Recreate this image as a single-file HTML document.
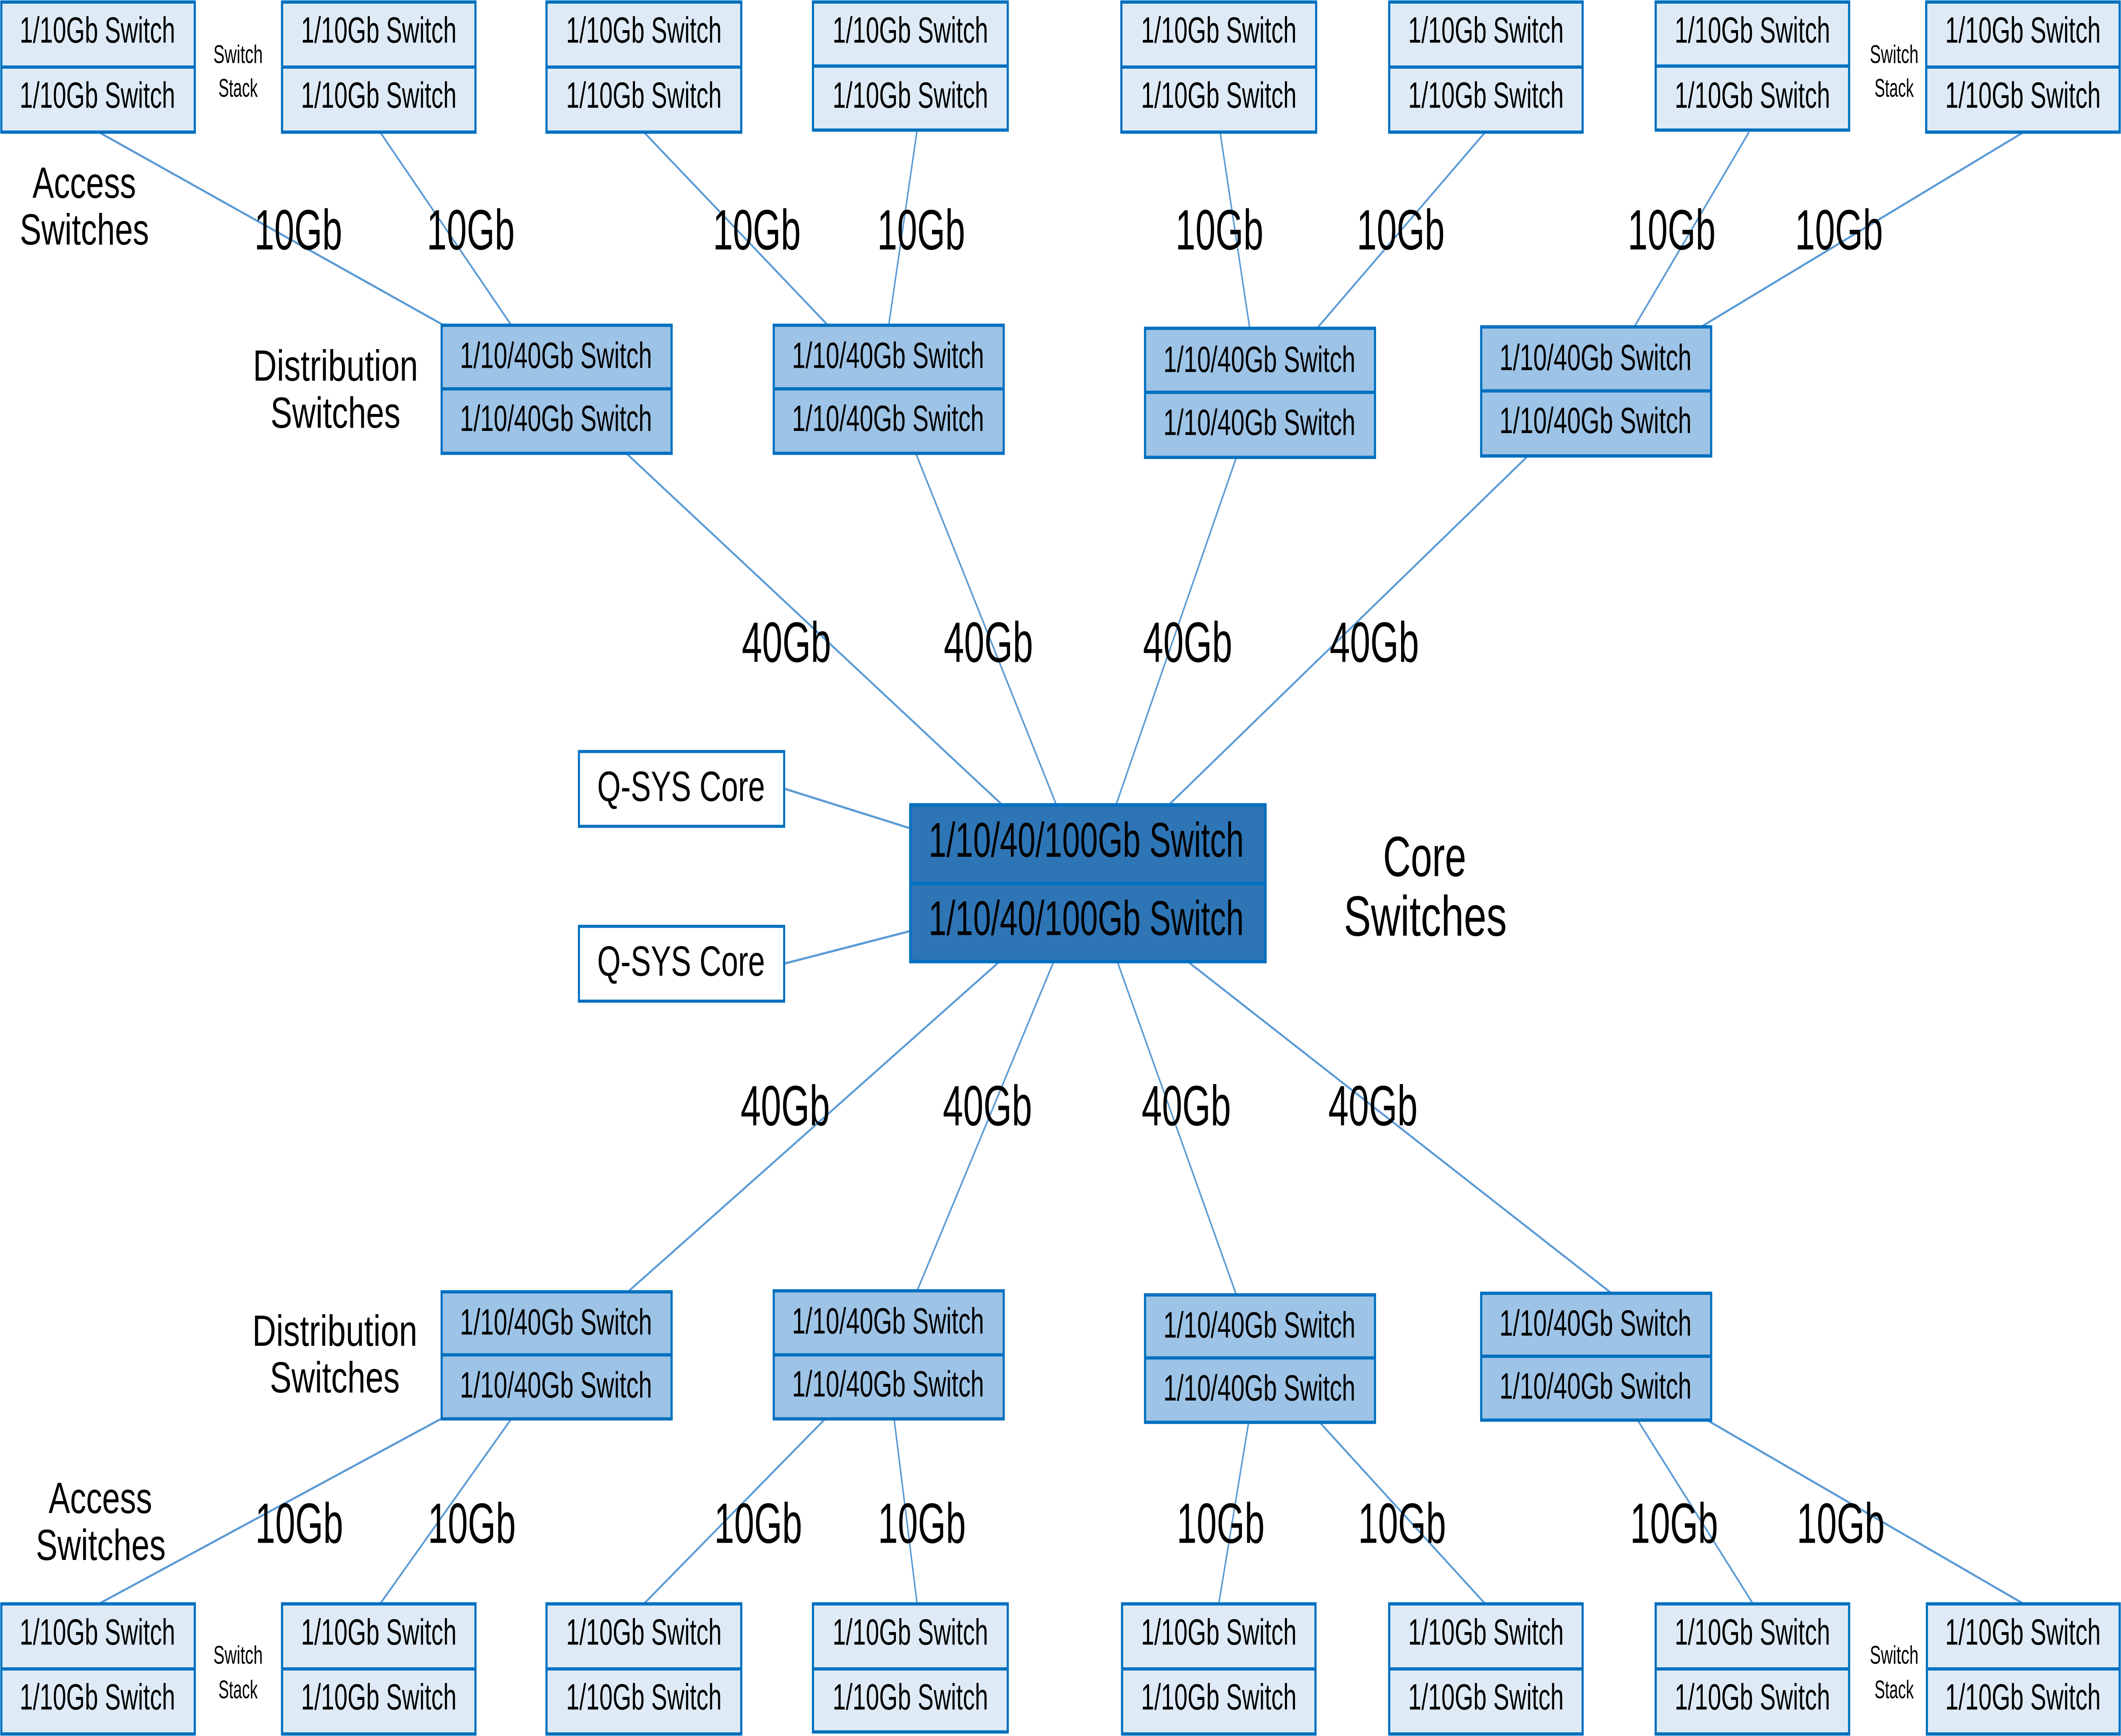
<!DOCTYPE html>
<html>
<head>
<meta charset="utf-8">
<style>
html,body{margin:0;padding:0;background:#fff;width:100%;height:100%;overflow:hidden;}
svg{display:block;width:100vw;height:100vh;}
text{font-family:"Liberation Sans",sans-serif;fill:#000;}
</style>
</head>
<body>
<svg xmlns="http://www.w3.org/2000/svg" viewBox="0 0 1568 854" preserveAspectRatio="none">
<rect x="0" y="0" width="1568" height="854" fill="#fff"/>

<!-- connector lines -->
<g stroke="#5B9BD5" stroke-width="1.1" fill="none">
  <line x1="73" y1="65" x2="328" y2="160"/>
  <line x1="281" y1="65" x2="378" y2="160"/>
  <line x1="476" y1="65" x2="612" y2="160"/>
  <line x1="678" y1="64" x2="657" y2="160"/>
  <line x1="902" y1="65" x2="924" y2="162"/>
  <line x1="1098" y1="65" x2="973" y2="162"/>
  <line x1="1293" y1="65" x2="1208" y2="161"/>
  <line x1="1496" y1="65" x2="1257" y2="161"/>
  <line x1="463" y1="223" x2="741" y2="396"/>
  <line x1="677" y1="223" x2="781" y2="396"/>
  <line x1="914" y1="225" x2="825" y2="396"/>
  <line x1="1130" y1="224" x2="864" y2="396"/>
  <line x1="739" y1="473" x2="465" y2="635"/>
  <line x1="779" y1="473" x2="678" y2="635"/>
  <line x1="826" y1="473" x2="914" y2="637"/>
  <line x1="878" y1="473" x2="1191" y2="636"/>
  <line x1="326" y1="698" x2="73" y2="789"/>
  <line x1="378" y1="698" x2="281" y2="789"/>
  <line x1="610" y1="698" x2="476" y2="789"/>
  <line x1="661" y1="698" x2="678" y2="789"/>
  <line x1="923" y1="700" x2="901" y2="789"/>
  <line x1="976" y1="700" x2="1098" y2="789"/>
  <line x1="1211" y1="699" x2="1296" y2="789"/>
  <line x1="1263" y1="699" x2="1496" y2="789"/>
  <line x1="580" y1="388" x2="673" y2="407.5"/>
  <line x1="580" y1="474" x2="673" y2="458"/>
</g>

<!-- access boxes top -->
<g stroke="#0070C0" stroke-width="1.6" fill="#DEEBF7">
  <rect x="1" y="1" width="143" height="64"/><line x1="1" y1="33" x2="144" y2="33"/>
  <rect x="208.5" y="1" width="143" height="64"/><line x1="208.5" y1="33" x2="351.5" y2="33"/>
  <rect x="404" y="1" width="144" height="64"/><line x1="404" y1="33" x2="548" y2="33"/>
  <rect x="601" y="1" width="144" height="63"/><line x1="601" y1="32.5" x2="745" y2="32.5"/>
  <rect x="829" y="1" width="144" height="64"/><line x1="829" y1="33" x2="973" y2="33"/>
  <rect x="1027" y="1" width="143" height="64"/><line x1="1027" y1="33" x2="1170" y2="33"/>
  <rect x="1224" y="1" width="143" height="63"/><line x1="1224" y1="32.5" x2="1367" y2="32.5"/>
  <rect x="1424" y="1" width="143" height="64"/><line x1="1424" y1="33" x2="1567" y2="33"/>
</g>
<!-- access boxes bottom -->
<g stroke="#0070C0" stroke-width="1.6" fill="#DEEBF7">
  <rect x="1" y="789" width="143" height="64"/><line x1="1" y1="821" x2="144" y2="821"/>
  <rect x="208.5" y="789" width="143" height="64"/><line x1="208.5" y1="821" x2="351.5" y2="821"/>
  <rect x="404" y="789" width="144" height="64"/><line x1="404" y1="821" x2="548" y2="821"/>
  <rect x="601" y="789" width="144" height="63"/><line x1="601" y1="821" x2="745" y2="821"/>
  <rect x="829.5" y="789" width="143" height="64"/><line x1="829.5" y1="821" x2="972.5" y2="821"/>
  <rect x="1027" y="789" width="143" height="64"/><line x1="1027" y1="821" x2="1170" y2="821"/>
  <rect x="1224" y="789" width="143" height="64"/><line x1="1224" y1="821" x2="1367" y2="821"/>
  <rect x="1424.5" y="789" width="142.5" height="64"/><line x1="1424.5" y1="821" x2="1567" y2="821"/>
</g>

<!-- distribution boxes -->
<g stroke="#0070C0" stroke-width="1.6" fill="#9DC3E6">
  <rect x="326.5" y="160" width="170" height="63"/><line x1="326.5" y1="191.3" x2="496.5" y2="191.3"/>
  <rect x="572" y="160" width="170" height="63"/><line x1="572" y1="191.3" x2="742" y2="191.3"/>
  <rect x="846.5" y="161.5" width="170" height="63.5"/><line x1="846.5" y1="193" x2="1016.5" y2="193"/>
  <rect x="1095" y="160.8" width="170" height="63.5"/><line x1="1095" y1="192.3" x2="1265" y2="192.3"/>
  <rect x="326.5" y="635.5" width="170" height="62.5"/><line x1="326.5" y1="666.5" x2="496.5" y2="666.5"/>
  <rect x="572" y="635" width="170" height="63"/><line x1="572" y1="666.5" x2="742" y2="666.5"/>
  <rect x="846.5" y="637" width="170" height="62.7"/><line x1="846.5" y1="668" x2="1016.5" y2="668"/>
  <rect x="1095" y="636.2" width="170" height="62.4"/><line x1="1095" y1="667.2" x2="1265" y2="667.2"/>
</g>

<!-- core -->
<g stroke="#0070C0" stroke-width="1.8" fill="#2E75B6">
  <rect x="673" y="396" width="262.5" height="77"/>
  <line x1="673" y1="434.6" x2="935.5" y2="434.6"/>
</g>

<!-- Q-SYS boxes -->
<g stroke="#0070C0" stroke-width="1.5" fill="#fff">
  <rect x="428" y="369.7" width="151.7" height="36.8"/>
  <rect x="428" y="455.7" width="151.7" height="36.8"/>
</g>

<!-- access box text -->
<g font-size="18" text-anchor="middle">
  <text x="72" y="21" textLength="115" lengthAdjust="spacingAndGlyphs">1/10Gb Switch</text>
  <text x="72" y="53" textLength="115" lengthAdjust="spacingAndGlyphs">1/10Gb Switch</text>
  <text x="280" y="21" textLength="115" lengthAdjust="spacingAndGlyphs">1/10Gb Switch</text>
  <text x="280" y="53" textLength="115" lengthAdjust="spacingAndGlyphs">1/10Gb Switch</text>
  <text x="476" y="21" textLength="115" lengthAdjust="spacingAndGlyphs">1/10Gb Switch</text>
  <text x="476" y="53" textLength="115" lengthAdjust="spacingAndGlyphs">1/10Gb Switch</text>
  <text x="673" y="21" textLength="115" lengthAdjust="spacingAndGlyphs">1/10Gb Switch</text>
  <text x="673" y="53" textLength="115" lengthAdjust="spacingAndGlyphs">1/10Gb Switch</text>
  <text x="901" y="21" textLength="115" lengthAdjust="spacingAndGlyphs">1/10Gb Switch</text>
  <text x="901" y="53" textLength="115" lengthAdjust="spacingAndGlyphs">1/10Gb Switch</text>
  <text x="1098.5" y="21" textLength="115" lengthAdjust="spacingAndGlyphs">1/10Gb Switch</text>
  <text x="1098.5" y="53" textLength="115" lengthAdjust="spacingAndGlyphs">1/10Gb Switch</text>
  <text x="1295.5" y="21" textLength="115" lengthAdjust="spacingAndGlyphs">1/10Gb Switch</text>
  <text x="1295.5" y="53" textLength="115" lengthAdjust="spacingAndGlyphs">1/10Gb Switch</text>
  <text x="1495.5" y="21" textLength="115" lengthAdjust="spacingAndGlyphs">1/10Gb Switch</text>
  <text x="1495.5" y="53" textLength="115" lengthAdjust="spacingAndGlyphs">1/10Gb Switch</text>

  <text x="72" y="809" textLength="115" lengthAdjust="spacingAndGlyphs">1/10Gb Switch</text>
  <text x="72" y="841" textLength="115" lengthAdjust="spacingAndGlyphs">1/10Gb Switch</text>
  <text x="280" y="809" textLength="115" lengthAdjust="spacingAndGlyphs">1/10Gb Switch</text>
  <text x="280" y="841" textLength="115" lengthAdjust="spacingAndGlyphs">1/10Gb Switch</text>
  <text x="476" y="809" textLength="115" lengthAdjust="spacingAndGlyphs">1/10Gb Switch</text>
  <text x="476" y="841" textLength="115" lengthAdjust="spacingAndGlyphs">1/10Gb Switch</text>
  <text x="673" y="809" textLength="115" lengthAdjust="spacingAndGlyphs">1/10Gb Switch</text>
  <text x="673" y="841" textLength="115" lengthAdjust="spacingAndGlyphs">1/10Gb Switch</text>
  <text x="901" y="809" textLength="115" lengthAdjust="spacingAndGlyphs">1/10Gb Switch</text>
  <text x="901" y="841" textLength="115" lengthAdjust="spacingAndGlyphs">1/10Gb Switch</text>
  <text x="1098.5" y="809" textLength="115" lengthAdjust="spacingAndGlyphs">1/10Gb Switch</text>
  <text x="1098.5" y="841" textLength="115" lengthAdjust="spacingAndGlyphs">1/10Gb Switch</text>
  <text x="1295.5" y="809" textLength="115" lengthAdjust="spacingAndGlyphs">1/10Gb Switch</text>
  <text x="1295.5" y="841" textLength="115" lengthAdjust="spacingAndGlyphs">1/10Gb Switch</text>
  <text x="1495.5" y="809" textLength="115" lengthAdjust="spacingAndGlyphs">1/10Gb Switch</text>
  <text x="1495.5" y="841" textLength="115" lengthAdjust="spacingAndGlyphs">1/10Gb Switch</text>
</g>

<!-- distribution text -->
<g font-size="18" text-anchor="middle">
  <text x="411" y="181" textLength="142" lengthAdjust="spacingAndGlyphs">1/10/40Gb Switch</text>
  <text x="411" y="212" textLength="142" lengthAdjust="spacingAndGlyphs">1/10/40Gb Switch</text>
  <text x="656.5" y="181" textLength="142" lengthAdjust="spacingAndGlyphs">1/10/40Gb Switch</text>
  <text x="656.5" y="212" textLength="142" lengthAdjust="spacingAndGlyphs">1/10/40Gb Switch</text>
  <text x="931" y="183" textLength="142" lengthAdjust="spacingAndGlyphs">1/10/40Gb Switch</text>
  <text x="931" y="214" textLength="142" lengthAdjust="spacingAndGlyphs">1/10/40Gb Switch</text>
  <text x="1179.5" y="182" textLength="142" lengthAdjust="spacingAndGlyphs">1/10/40Gb Switch</text>
  <text x="1179.5" y="213" textLength="142" lengthAdjust="spacingAndGlyphs">1/10/40Gb Switch</text>
  <text x="411" y="656.5" textLength="142" lengthAdjust="spacingAndGlyphs">1/10/40Gb Switch</text>
  <text x="411" y="687.5" textLength="142" lengthAdjust="spacingAndGlyphs">1/10/40Gb Switch</text>
  <text x="656.5" y="656" textLength="142" lengthAdjust="spacingAndGlyphs">1/10/40Gb Switch</text>
  <text x="656.5" y="687" textLength="142" lengthAdjust="spacingAndGlyphs">1/10/40Gb Switch</text>
  <text x="931" y="658" textLength="142" lengthAdjust="spacingAndGlyphs">1/10/40Gb Switch</text>
  <text x="931" y="689" textLength="142" lengthAdjust="spacingAndGlyphs">1/10/40Gb Switch</text>
  <text x="1179.5" y="657" textLength="142" lengthAdjust="spacingAndGlyphs">1/10/40Gb Switch</text>
  <text x="1179.5" y="688" textLength="142" lengthAdjust="spacingAndGlyphs">1/10/40Gb Switch</text>
</g>

<!-- core text -->
<g font-size="24" text-anchor="middle">
  <text x="803" y="421.5" textLength="233" lengthAdjust="spacingAndGlyphs">1/10/40/100Gb Switch</text>
  <text x="803" y="460" textLength="233" lengthAdjust="spacingAndGlyphs">1/10/40/100Gb Switch</text>
</g>

<!-- Q-SYS text -->
<g font-size="21" text-anchor="middle">
  <text x="503.5" y="394" textLength="124" lengthAdjust="spacingAndGlyphs">Q-SYS Core</text>
  <text x="503.5" y="480" textLength="124" lengthAdjust="spacingAndGlyphs">Q-SYS Core</text>
</g>

<!-- bandwidth labels -->
<g font-size="28" text-anchor="middle">
  <text x="220.5" y="122.7" textLength="65" lengthAdjust="spacingAndGlyphs">10Gb</text>
  <text x="348" y="122.7" textLength="65" lengthAdjust="spacingAndGlyphs">10Gb</text>
  <text x="559.5" y="122.7" textLength="65" lengthAdjust="spacingAndGlyphs">10Gb</text>
  <text x="681" y="122.7" textLength="65" lengthAdjust="spacingAndGlyphs">10Gb</text>
  <text x="901.5" y="122.7" textLength="65" lengthAdjust="spacingAndGlyphs">10Gb</text>
  <text x="1035.5" y="122.7" textLength="65" lengthAdjust="spacingAndGlyphs">10Gb</text>
  <text x="1235.8" y="122.7" textLength="65" lengthAdjust="spacingAndGlyphs">10Gb</text>
  <text x="1359.5" y="122.7" textLength="65" lengthAdjust="spacingAndGlyphs">10Gb</text>

  <text x="581.4" y="325.6" textLength="66" lengthAdjust="spacingAndGlyphs">40Gb</text>
  <text x="730.7" y="325.6" textLength="66" lengthAdjust="spacingAndGlyphs">40Gb</text>
  <text x="878" y="325.6" textLength="66" lengthAdjust="spacingAndGlyphs">40Gb</text>
  <text x="1016" y="325.6" textLength="66" lengthAdjust="spacingAndGlyphs">40Gb</text>

  <text x="580.5" y="553.6" textLength="66" lengthAdjust="spacingAndGlyphs">40Gb</text>
  <text x="730" y="553.6" textLength="66" lengthAdjust="spacingAndGlyphs">40Gb</text>
  <text x="877" y="553.6" textLength="66" lengthAdjust="spacingAndGlyphs">40Gb</text>
  <text x="1015" y="553.6" textLength="66" lengthAdjust="spacingAndGlyphs">40Gb</text>

  <text x="221.2" y="759" textLength="65" lengthAdjust="spacingAndGlyphs">10Gb</text>
  <text x="348.8" y="759" textLength="65" lengthAdjust="spacingAndGlyphs">10Gb</text>
  <text x="560.5" y="759" textLength="65" lengthAdjust="spacingAndGlyphs">10Gb</text>
  <text x="681.5" y="759" textLength="65" lengthAdjust="spacingAndGlyphs">10Gb</text>
  <text x="902.4" y="759" textLength="65" lengthAdjust="spacingAndGlyphs">10Gb</text>
  <text x="1036.5" y="759" textLength="65" lengthAdjust="spacingAndGlyphs">10Gb</text>
  <text x="1237.6" y="759" textLength="65" lengthAdjust="spacingAndGlyphs">10Gb</text>
  <text x="1360.8" y="759" textLength="65" lengthAdjust="spacingAndGlyphs">10Gb</text>
</g>

<!-- section labels -->
<g font-size="21.5" text-anchor="middle">
  <text x="62.3" y="97.3" textLength="76.5" lengthAdjust="spacingAndGlyphs">Access</text>
  <text x="62.4" y="120.3" textLength="95.5" lengthAdjust="spacingAndGlyphs">Switches</text>
  <text x="248" y="187.3" textLength="122" lengthAdjust="spacingAndGlyphs">Distribution</text>
  <text x="248" y="210.4" textLength="96" lengthAdjust="spacingAndGlyphs">Switches</text>
  <text x="247.5" y="662" textLength="122" lengthAdjust="spacingAndGlyphs">Distribution</text>
  <text x="247.5" y="685" textLength="96" lengthAdjust="spacingAndGlyphs">Switches</text>
  <text x="74.2" y="744.4" textLength="76.5" lengthAdjust="spacingAndGlyphs">Access</text>
  <text x="74.5" y="767.4" textLength="96" lengthAdjust="spacingAndGlyphs">Switches</text>
</g>
<g font-size="28" text-anchor="middle">
  <text x="1053.2" y="431" textLength="61.5" lengthAdjust="spacingAndGlyphs">Core</text>
  <text x="1053.7" y="460.3" textLength="120.5" lengthAdjust="spacingAndGlyphs">Switches</text>
</g>

<!-- switch stack labels -->
<g font-size="12.5" text-anchor="middle">
  <text x="176" y="31" textLength="36.5" lengthAdjust="spacingAndGlyphs">Switch</text>
  <text x="176" y="47.6" textLength="29" lengthAdjust="spacingAndGlyphs">Stack</text>
  <text x="1400.3" y="31" textLength="36" lengthAdjust="spacingAndGlyphs">Switch</text>
  <text x="1400.3" y="47.6" textLength="29" lengthAdjust="spacingAndGlyphs">Stack</text>
  <text x="176" y="818.4" textLength="36.5" lengthAdjust="spacingAndGlyphs">Switch</text>
  <text x="176" y="835.4" textLength="29" lengthAdjust="spacingAndGlyphs">Stack</text>
  <text x="1400.3" y="818.4" textLength="36" lengthAdjust="spacingAndGlyphs">Switch</text>
  <text x="1400.3" y="835.4" textLength="29" lengthAdjust="spacingAndGlyphs">Stack</text>
</g>
</svg>
</body>
</html>
